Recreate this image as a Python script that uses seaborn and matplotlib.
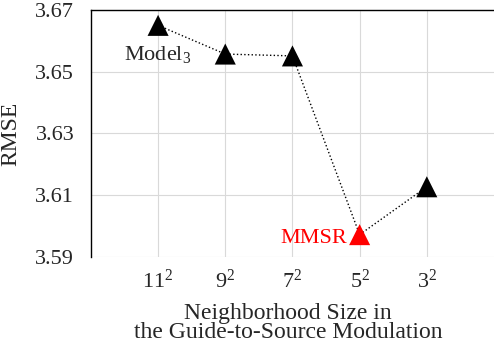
import matplotlib
matplotlib.use('Agg')
import matplotlib.pyplot as plt
import pandas as pd
import seaborn as sns

# values
sizes = ['$\\mathregular{11^2}$', '$\\mathregular{9^2}$', '$\\mathregular{7^2}$',
         '$\\mathregular{5^2}$', '$\\mathregular{3^2}$']
rmse = [3.665, 3.6557, 3.6551, 3.5972, 3.6127]
model = ['other', 'other', 'other', 'MMSR', 'other']
y_ticks = [3.59, 3.61, 3.63, 3.65, 3.67]

df = pd.DataFrame({'pos': range(len(sizes)), 'rmse': rmse, 'model': model})

sns.set_style('white')
plt.rcParams['font.family'] = ['Liberation Serif', 'DejaVu Serif']
plt.rcParams['mathtext.fontset'] = 'custom'
plt.rcParams['mathtext.rm'] = 'Liberation Serif'

fig = plt.figure(figsize=(4.94, 3.42), dpi=100)
ax = fig.add_axes([0.184, 0.249, 0.816, 0.722])

# dotted connecting line
sns.lineplot(data=df, x='pos', y='rmse', color='black', linestyle=':',
             linewidth=1.0, ax=ax, zorder=2)
# triangle markers
sns.scatterplot(data=df, x='pos', y='rmse', hue='model',
                palette={'other': 'black', 'MMSR': '#ff0000'},
                marker='^', s=230, edgecolor='none', legend=False, ax=ax, zorder=3)

ax.set_xlim(-1, 5)
ax.set_ylim(3.59, 3.67)
ax.set_xticks(range(len(sizes)))
ax.set_xticklabels(sizes)
ax.set_yticks(y_ticks)
ax.set_yticklabels(['%.2f' % t for t in y_ticks])
ax.tick_params(axis='both', length=0, labelsize=16)
ax.tick_params(axis='y', pad=12)
ax.tick_params(axis='x', pad=9)

ax.grid(True, color='#d9d9d9', linewidth=0.8)
ax.set_axisbelow(True)
for side in ['bottom', 'right']:
    ax.spines[side].set_visible(False)
for side in ['left', 'top']:
    ax.spines[side].set_color('black')
    ax.spines[side].set_linewidth(1.0)

ax.set_xlabel('Neighborhood Size in\nthe Guide-to-Source Modulation',
              fontsize=17, linespacing=0.88)
ax.xaxis.set_label_coords(0.489, -0.185)
ax.xaxis.label.set_va('top')
ax.set_ylabel('RMSE', fontsize=17, labelpad=10)

ax.text(0, 3.6554, 'Model$_3$', fontsize=16, ha='center', va='center')
ax.text(2.81, 3.5958, 'MMSR', fontsize=16, color='#ff0000', ha='right', va='center')

fig.savefig('out.png', dpi=100)
